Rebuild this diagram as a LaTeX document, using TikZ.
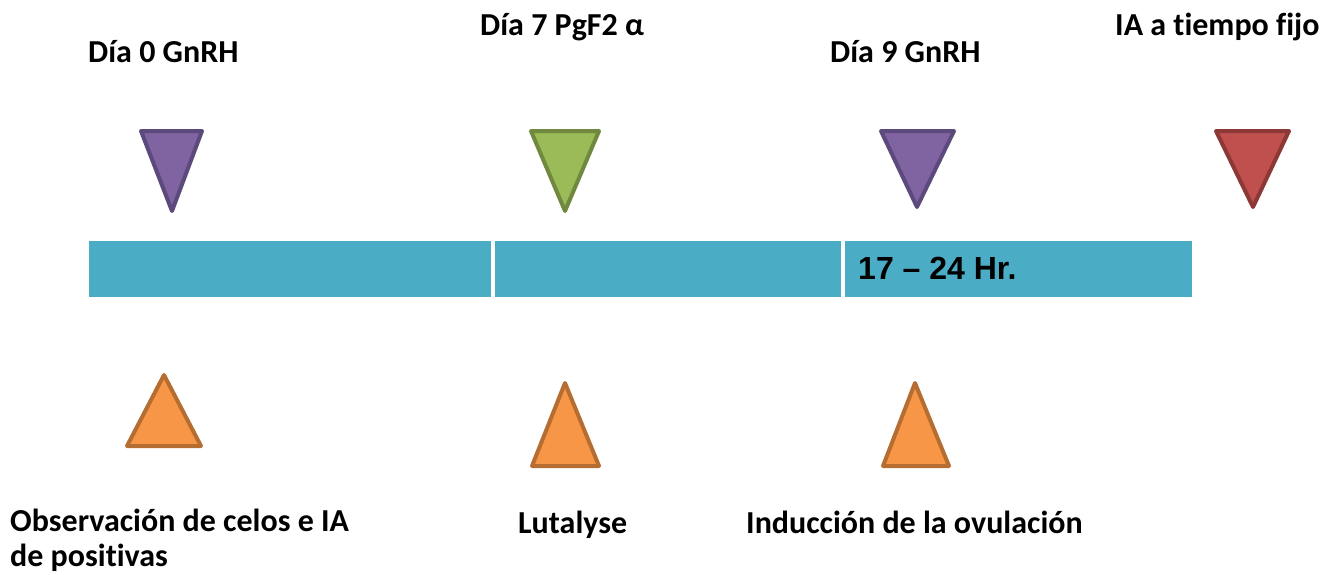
\documentclass[tikz,border=0pt]{standalone}
\usepackage{fontspec}
\setmainfont[Ligatures={NoCommon}]{Carlito}
\newfontfamily\hrfont{Liberation Sans}
\usetikzlibrary{positioning}

\definecolor{barblue}{HTML}{4BACC6}
\definecolor{lilafill}{HTML}{8064A2}
\definecolor{lilaline}{HTML}{5C4A7C}
\definecolor{verdefill}{HTML}{9BBB59}
\definecolor{verdeline}{HTML}{71893F}
\definecolor{rojofill}{HTML}{C0504D}
\definecolor{rojoline}{HTML}{8C3836}
\definecolor{naranjafill}{HTML}{F79646}
\definecolor{naranjaline}{HTML}{B66D31}

\begin{document}
\begin{tikzpicture}[x=1pt,y=-1pt]

\tikzset{every node/.style = {font=\fontsize{32}{35}\selectfont\bfseries, inner sep=0pt, anchor=base west}}
\tikzstyle{bar} = [fill=barblue, draw=none, anchor=north west, minimum height=56pt]
\tikzstyle{marca} = [line width=4pt, line join=round]

\useasboundingbox (0,0) rectangle (1334,574);

% barra de tiempo
\node[bar, minimum width=402pt] (bar1) at (89,241)  {};
\node[bar, minimum width=346pt] (bar2) at (495,241) {};
\node[bar, minimum width=347pt] (bar3) at (845,241) {};
\node (horas) at (858,279) {\hrfont 17 – 24 Hr.};

% etiquetas de arriba
\node (dia0)  at (88,62)   {Día 0 GnRH};
\node (dia7)  at (480,35)  {Día 7 PgF2 α};
\node (dia9)  at (830,62)  {Día 9 GnRH};
\node (iatf)  at (1115,35) {IA a tiempo fijo};

% triangulos de arriba
\draw[marca, draw=lilaline, fill=lilafill]   (141,131) -- (202,131) -- (172,211) -- cycle;
\draw[marca, draw=verdeline, fill=verdefill] (531,131) -- (599,131) -- (565,211) -- cycle;
\draw[marca, draw=lilaline, fill=lilafill]   (881,131) -- (954,131) -- (917,207) -- cycle;
\draw[marca, draw=rojoline, fill=rojofill]   (1216,131) -- (1289,131) -- (1253,207) -- cycle;

% triangulos de abajo
\draw[marca, draw=naranjaline, fill=naranjafill] (164,375) -- (201,446) -- (127,446) -- cycle;
\draw[marca, draw=naranjaline, fill=naranjafill] (565,383) -- (599,466) -- (532,466) -- cycle;
\draw[marca, draw=naranjaline, fill=naranjafill] (915,383) -- (949,466) -- (883,466) -- cycle;

% etiquetas de abajo
\node[align=left] (obs) at (10,566) {Observación de celos e IA\\de positivas};
\node (luta) at (518,533) {Lutalyse};
\node (ovul) at (746,533) {Inducción de la ovulación};

\end{tikzpicture}
\end{document}
